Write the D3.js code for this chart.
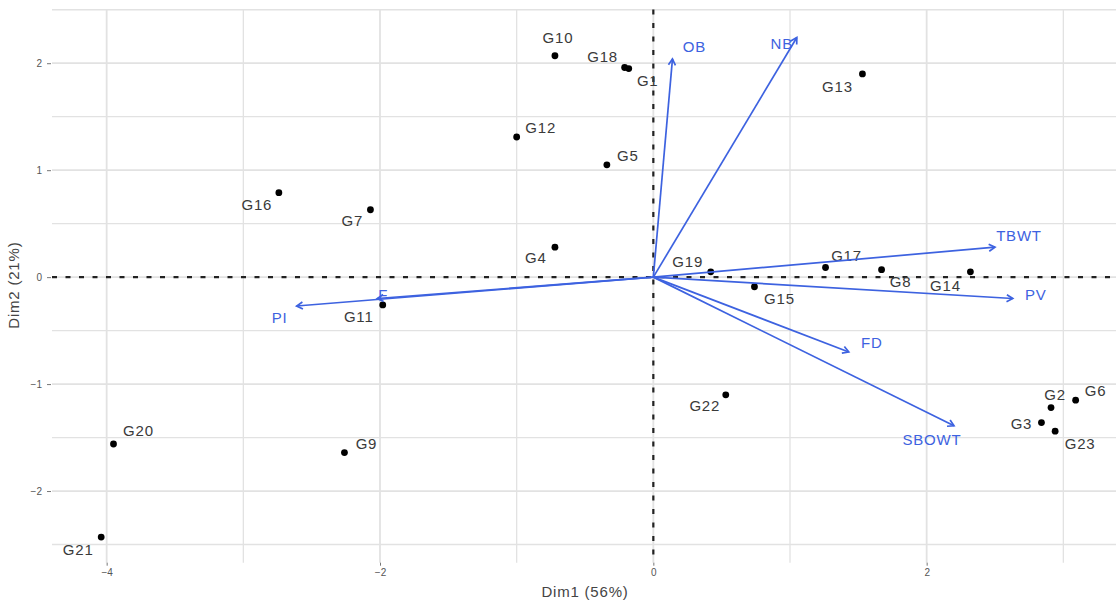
<!DOCTYPE html>
<html>
<head>
<meta charset="utf-8">
<script src="https://cdn.jsdelivr.net/npm/d3@7"></script>
<style>
  html, body { margin: 0; padding: 0; background: #fff; }
  svg { display: block; font-family: "Liberation Sans", Arial, sans-serif; }
</style>
</head>
<body>
<svg id="chart" width="1116" height="605"></svg>
<script>
// Genotype scores on the first two principal components
const genotypes = ["G1","G2","G3","G4","G5","G6","G7","G8","G9","G10","G11","G12",
                   "G13","G14","G15","G16","G17","G18","G19","G20","G21","G22","G23"];
const dim1 = [-0.18, 2.91, 2.84, -0.72, -0.34, 3.09, -2.07, 1.67, -2.26, -0.72, -1.98, -1.00,
              1.53, 2.32, 0.74, -2.74, 1.26, -0.21, 0.42, -3.95, -4.04, 0.53, 2.94];
const dim2 = [1.95, -1.22, -1.36, 0.28, 1.05, -1.15, 0.63, 0.07, -1.64, 2.07, -0.26, 1.31,
              1.90, 0.05, -0.09, 0.79, 0.09, 1.96, 0.05, -1.56, -2.43, -1.10, -1.44];

// Variable loadings (arrow tips)
const variables = ["OB", "NB", "TBWT", "PV", "FD", "SBOWT", "PI", "F"];
const varDim1 = [0.14, 1.05, 2.50, 2.63, 1.43, 2.20, -2.61, -2.02];
const varDim2 = [2.04, 2.24, 0.28, -0.20, -0.70, -1.39, -0.27, -0.20];

// Axis ticks and titles
const xTicks = [-4, -2, 0, 2];
const yTicks = [-2, -1, 0, 1, 2];
const xTitle = "Dim1 (56%)";
const yTitle = "Dim2 (21%)";

// Label placement (pixel offsets from each mark)
const genoLabelOffset = {
  G1: [19, 12], G2: [4, -13], G3: [-20, 1], G4: [-19, 10], G5: [21, -9], G6: [20, -10],
  G7: [-18, 11], G8: [19, 12], G9: [22, -9], G10: [3, -18], G11: [-24, 12], G12: [24, -10],
  G13: [-25, 13], G14: [-25, 14], G15: [25, 12], G16: [-22, 12], G17: [21, -12],
  G18: [-22, -11], G19: [-23, -10], G20: [25, -13], G21: [-23, 12], G22: [-21, 11],
  G23: [25, 12]
};
const varLabelOffset = {
  OB: [22, -12], NB: [-15, 6], TBWT: [24, -12], PV: [23, -4], FD: [23, -9],
  SBOWT: [-22, 14], PI: [-17, 11], F: [6, -4]
};

const svg = d3.select("#chart");
const x = d3.scaleLinear().domain([-4.4, 3.4]).range([52, 1118]);
const y = d3.scaleLinear().domain([-2.67, 2.52]).range([562.7, 7.6]);

const [x0, x1] = x.range();
const [yb, yt] = y.range();

// grid
const grid = svg.append("g");
const vGrid = d3.range(-4, 4, 1);
const hGrid = d3.range(-2.5, 2.51, 0.5);
grid.selectAll("line.v").data(vGrid).join("line")
  .attr("x1", d => x(d)).attr("x2", d => x(d))
  .attr("y1", yt + 2).attr("y2", yb)
  .attr("stroke", "#e2e2e2").attr("stroke-width", d => d % 2 === 0 ? 1.8 : 1.3);
grid.selectAll("line.h").data(hGrid).join("line")
  .attr("x1", x0).attr("x2", x1)
  .attr("y1", d => y(d)).attr("y2", d => y(d))
  .attr("stroke", "#e2e2e2").attr("stroke-width", d => Number.isInteger(d) ? 1.8 : 1.3);

// axes
const xAxis = d3.axisBottom(x).tickValues(xTicks).tickSize(3).tickPadding(3).tickFormat(d3.format("d"));
const yAxis = d3.axisLeft(y).tickValues(yTicks).tickSize(4).tickPadding(5).tickFormat(d3.format("d"));
const gx = svg.append("g").attr("transform", `translate(0,${yb})`).call(xAxis);
const gy = svg.append("g").attr("transform", `translate(${x0 - 1},0)`).call(yAxis);
[gx, gy].forEach(g => {
  g.select(".domain").remove();
  g.selectAll(".tick line").attr("stroke", "#777");
  g.selectAll(".tick text").attr("fill", "#555").attr("font-size", 10)
    .attr("font-family", "Liberation Sans, Arial, sans-serif");
});

svg.append("text")
  .attr("x", (x0 + x1) / 2).attr("y", 597)
  .attr("text-anchor", "middle").attr("font-size", 15).attr("fill", "#444")
  .attr("letter-spacing", 0.8)
  .text(xTitle);
svg.append("text")
  .attr("transform", `translate(19,${(yt + yb) / 2}) rotate(-90)`)
  .attr("text-anchor", "middle").attr("font-size", 15).attr("fill", "#444")
  .attr("letter-spacing", 0.8)
  .text(yTitle);

// dashed reference lines through the origin
svg.append("line")
  .attr("x1", x0).attr("x2", x1).attr("y1", y(0)).attr("y2", y(0))
  .attr("stroke", "#222").attr("stroke-width", 2.2).attr("stroke-dasharray", "5,8.5");
svg.append("line")
  .attr("x1", x(0)).attr("x2", x(0)).attr("y1", yt + 2).attr("y2", yb)
  .attr("stroke", "#222").attr("stroke-width", 2.2).attr("stroke-dasharray", "5,8.5");

// genotype points and labels
const geno = genotypes.map((g, i) => ({ name: g, d1: dim1[i], d2: dim2[i] }));
svg.append("g").selectAll("circle").data(geno).join("circle")
  .attr("cx", d => x(d.d1)).attr("cy", d => y(d.d2)).attr("r", 3.4)
  .attr("fill", "#000");
svg.append("g").selectAll("text").data(geno).join("text")
  .attr("x", d => x(d.d1) + genoLabelOffset[d.name][0])
  .attr("y", d => y(d.d2) + genoLabelOffset[d.name][1])
  .attr("text-anchor", "middle").attr("dominant-baseline", "central")
  .attr("font-size", 15).attr("letter-spacing", 0.8).attr("fill", "#3a3a3a")
  .text(d => d.name);

// variable arrows
const blue = "#3d62e0";
const vars = variables.map((v, i) => ({ name: v, d1: varDim1[i], d2: varDim2[i] }));
const arrows = svg.append("g");
vars.forEach(v => {
  const sx = x(0), sy = y(0), ex = x(v.d1), ey = y(v.d2);
  arrows.append("line")
    .attr("x1", sx).attr("y1", sy).attr("x2", ex).attr("y2", ey)
    .attr("stroke", blue).attr("stroke-width", 1.7);
  const ang = Math.atan2(ey - sy, ex - sx);
  const len = 7, spread = Math.PI / 6;
  const p1 = [ex - len * Math.cos(ang - spread), ey - len * Math.sin(ang - spread)];
  const p2 = [ex - len * Math.cos(ang + spread), ey - len * Math.sin(ang + spread)];
  arrows.append("path")
    .attr("d", `M${p1[0]},${p1[1]}L${ex},${ey}L${p2[0]},${p2[1]}`)
    .attr("fill", "none").attr("stroke", blue).attr("stroke-width", 1.7);
});
svg.append("g").selectAll("text").data(vars).join("text")
  .attr("x", d => x(d.d1) + varLabelOffset[d.name][0])
  .attr("y", d => y(d.d2) + varLabelOffset[d.name][1])
  .attr("text-anchor", "middle").attr("dominant-baseline", "central")
  .attr("font-size", 15).attr("letter-spacing", 0.8).attr("fill", blue)
  .text(d => d.name);
</script>
</body>
</html>
